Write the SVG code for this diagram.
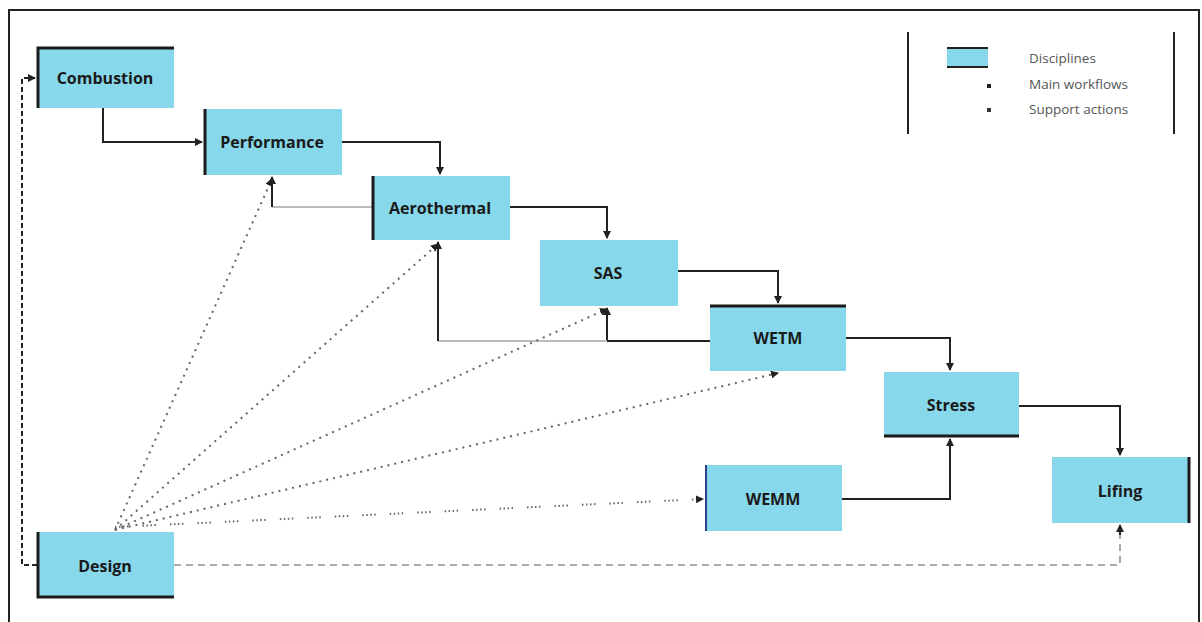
<svg xmlns="http://www.w3.org/2000/svg" width="1202" height="622" viewBox="0 0 1202 622">
<defs>
<style>
.node{fill:#87d8ea;}
.edge{stroke:#1a1a1a;stroke-width:3;}
.lbl{font-family:"Open Sans","Liberation Sans",sans-serif;font-weight:bold;font-size:16px;fill:#1a1a1a;text-anchor:middle;dominant-baseline:central;}
.leg{font-family:"Open Sans","Liberation Sans",sans-serif;font-size:13.5px;fill:#555;}
.main{fill:none;stroke:#222;stroke-width:2;}
.grey{fill:none;stroke:#bbb;stroke-width:2;}
.dot{fill:none;stroke:#666;stroke-width:2;stroke-dasharray:2 5;}
.dash{fill:none;stroke:#222;stroke-width:2;stroke-dasharray:5 3;}
.gdash{fill:none;stroke:#aaa;stroke-width:2;stroke-dasharray:7 5;}
</style>
<marker id="ah" viewBox="0 0 8 8" refX="7" refY="4" markerWidth="4" markerHeight="4" orient="auto"><path d="M0,0 L8,4 L0,8 z" fill="#222"/></marker>
</defs>
<rect width="1202" height="622" fill="#fff"/>
<path d="M9,622 V10 H1199 V622" fill="none" stroke="#222" stroke-width="2"/>

<g id="legend">
<line x1="908" y1="32" x2="908" y2="134" stroke="#222" stroke-width="2"/>
<line x1="1174" y1="32" x2="1174" y2="134" stroke="#222" stroke-width="2"/>
<rect x="947" y="48" width="41" height="19" class="node"/>
<line x1="947" y1="48" x2="988" y2="48" stroke="#222" stroke-width="2"/>
<line x1="947" y1="67" x2="988" y2="67" stroke="#222" stroke-width="2"/>
<text x="1029" y="63" class="leg">Disciplines</text>
<rect x="987" y="84" width="4" height="4" fill="#222"/>
<text x="1029" y="89" class="leg">Main workflows</text>
<rect x="987" y="108" width="4" height="4" fill="#333"/>
<text x="1029" y="114" class="leg">Support actions</text>
</g>

<g id="connectors">
<path class="main" d="M103,108 V142 H202" marker-end="url(#ah)"/>
<path class="main" d="M342,142 H440 V174" marker-end="url(#ah)"/>
<path class="main" d="M510,207 H607 V238" marker-end="url(#ah)"/>
<path class="main" d="M678,271 H778 V303" marker-end="url(#ah)"/>
<path class="main" d="M846,338 H950 V370" marker-end="url(#ah)"/>
<path class="main" d="M1019,406 H1120 V455" marker-end="url(#ah)"/>
<path class="main" d="M842,499 H950 V439" marker-end="url(#ah)"/>
<path class="main" d="M710,341 H607 V308" marker-end="url(#ah)"/>
<path class="grey" d="M607,341 H438"/>
<path class="main" d="M438,341 V242" marker-end="url(#ah)"/>
<path class="grey" d="M372,207 H272"/>
<path class="main" d="M272,207 V177" marker-end="url(#ah)"/>
<path class="dash" d="M37,565 H22 V78 H35" marker-end="url(#ah)"/>
<path class="gdash" d="M174,565 H1120 V525"/>
<path class="main" d="M1120,535 V525" marker-end="url(#ah)"/>
<path class="dot" d="M115,530 L272,179" marker-end="url(#ah)"/>
<path class="dot" d="M115,530 L438,244" marker-end="url(#ah)"/>
<path class="dot" d="M115,530 L607,309" marker-end="url(#ah)"/>
<path class="dot" d="M115,530 L778,373" marker-end="url(#ah)"/>
<path fill="none" stroke="#666" stroke-width="2" stroke-dasharray="1.5 2.5 1.5 2.5 1.5 2.5 1.5 14" d="M115,527 L703,499" marker-end="url(#ah)"/>
</g>

<g id="combustion">
<rect x="37" y="47" width="137" height="61" class="node"/>
<path class="edge" d="M38,108 V48 H174" fill="none"/>
<text x="105" y="78" class="lbl">Combustion</text>
</g>
<g id="performance">
<rect x="204" y="109" width="138" height="66" class="node"/>
<line x1="205" y1="109" x2="205" y2="175" class="edge"/>
<text x="272" y="142" class="lbl">Performance</text>
</g>
<g id="aerothermal">
<rect x="372" y="176" width="138" height="64" class="node"/>
<line x1="373" y1="176" x2="373" y2="240" class="edge"/>
<text x="440" y="208" class="lbl">Aerothermal</text>
</g>
<g id="sas">
<rect x="540" y="240" width="138" height="66" class="node"/>
<text x="608" y="273" class="lbl">SAS</text>
</g>
<g id="wetm">
<rect x="710" y="305" width="136" height="66" class="node"/>
<line x1="710" y1="306" x2="846" y2="306" class="edge"/>
<text x="778" y="338" class="lbl">WETM</text>
</g>
<g id="stress">
<rect x="884" y="372" width="135" height="65" class="node"/>
<line x1="884" y1="436" x2="1019" y2="436" class="edge"/>
<text x="951" y="405" class="lbl">Stress</text>
</g>
<g id="lifing">
<rect x="1052" y="457" width="138" height="66" class="node"/>
<line x1="1189" y1="457" x2="1189" y2="523" class="edge"/>
<text x="1120" y="491" class="lbl">Lifing</text>
</g>
<g id="wemm">
<rect x="705" y="465" width="137" height="66" class="node"/>
<line x1="706" y1="465" x2="706" y2="531" stroke="#2b3f8c" stroke-width="2"/>
<text x="773" y="499" class="lbl">WEMM</text>
</g>
<g id="design">
<rect x="37" y="532" width="137" height="66" class="node"/>
<path class="edge" d="M38,532 V597 H174" fill="none"/>
<text x="105" y="566" class="lbl">Design</text>
</g>
</svg>
